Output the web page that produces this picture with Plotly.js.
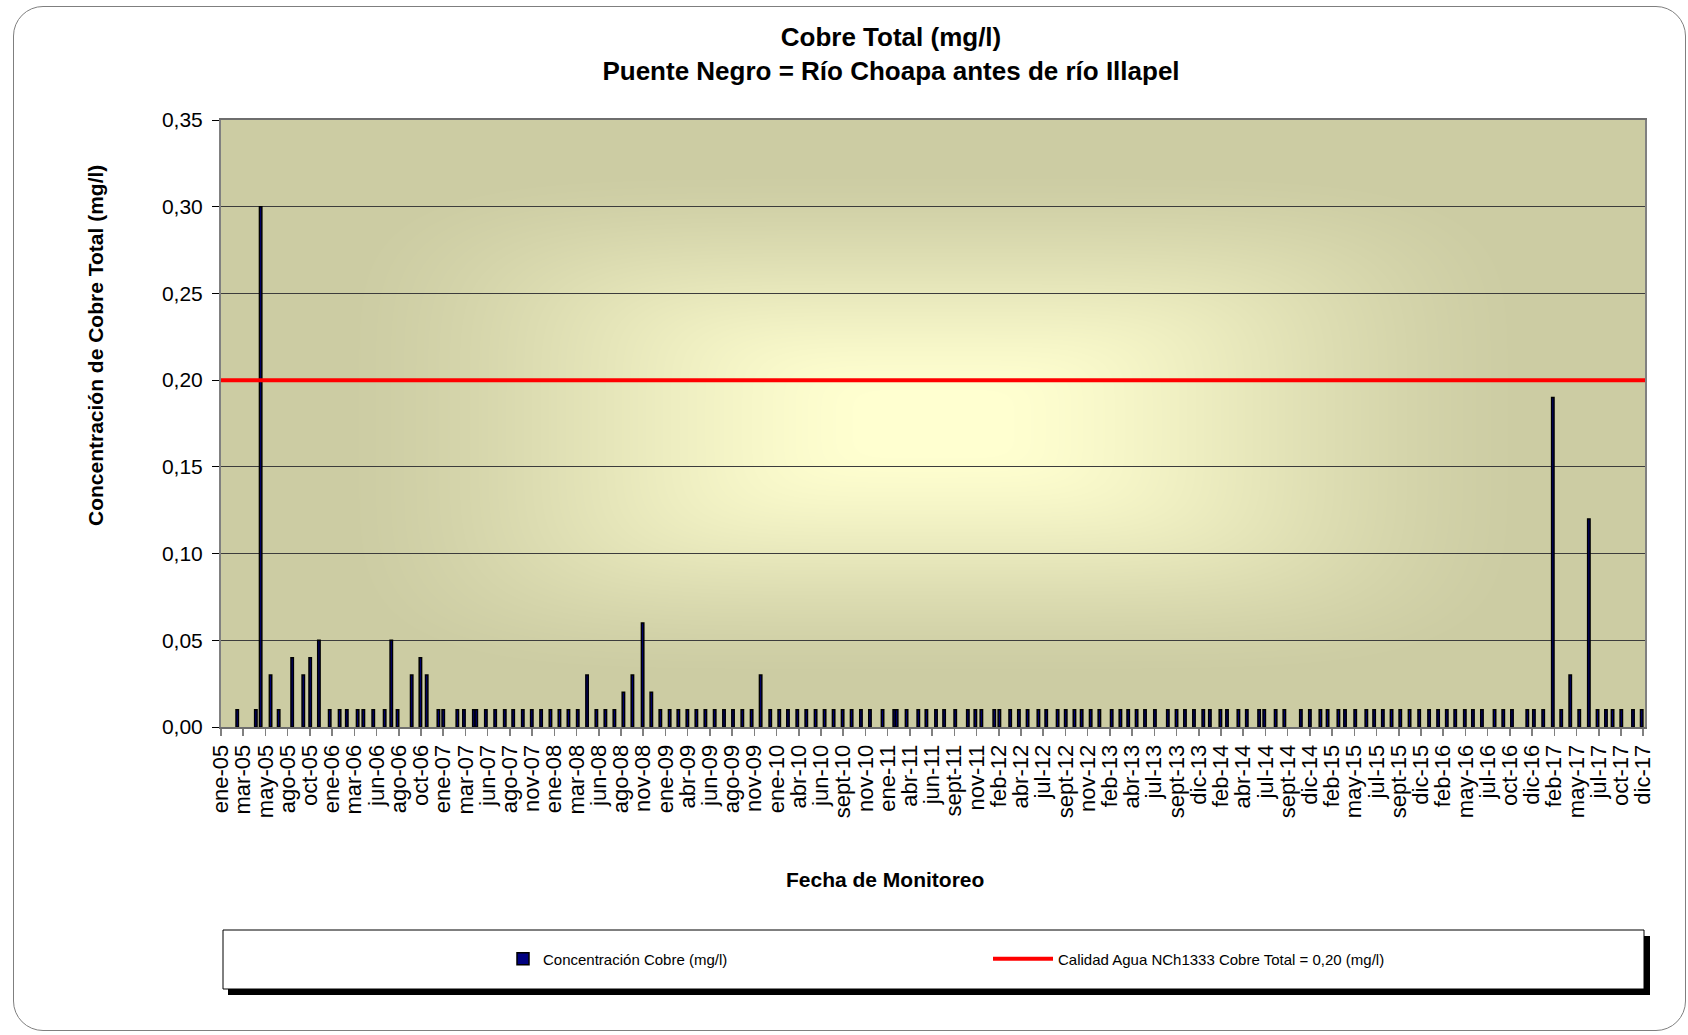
<!DOCTYPE html>
<html><head><meta charset="utf-8">
<script src="https://cdn.plot.ly/plotly-3.0.1.min.js"></script>
<style>
html,body{margin:0;padding:0;background:#fff;overflow:hidden;}
#frame{position:absolute;left:13px;top:6px;width:1673px;height:1025px;border:1.5px solid #7f7f7f;border-radius:30px;box-sizing:border-box;}
#chart{position:absolute;left:0;top:0;width:1688px;height:1035px;}
</style></head><body>
<div id="frame"></div>
<div id="chart"></div>
<script>
// ---- data ----
const sampleDates = [
 '2005-02-24','2005-04-27','2005-05-13','2005-06-15','2005-07-12','2005-08-26','2005-10-02','2005-10-25','2005-11-23','2005-12-29',
 '2006-01-31','2006-02-24','2006-04-01','2006-04-20','2006-05-23','2006-06-30','2006-07-22','2006-08-12','2006-09-28','2006-10-27','2006-11-17','2006-12-26',
 '2007-01-11','2007-02-27','2007-03-21','2007-04-23','2007-05-01','2007-06-02','2007-07-03','2007-08-04','2007-09-01','2007-10-03','2007-11-02','2007-12-03',
 '2008-01-03','2008-02-02','2008-03-03','2008-04-03','2008-05-04','2008-06-04','2008-07-04','2008-08-03','2008-09-02','2008-10-02','2008-11-05','2008-12-04',
 '2009-01-03','2009-02-03','2009-03-04','2009-04-03','2009-05-03','2009-06-02','2009-07-03','2009-08-03','2009-09-02','2009-10-03','2009-11-03','2009-12-03',
 '2010-01-04','2010-02-03','2010-03-04','2010-04-04','2010-05-04','2010-06-04','2010-07-04','2010-08-03','2010-09-02','2010-10-02','2010-11-02','2010-12-02',
 '2011-01-13','2011-02-21','2011-03-01','2011-04-03','2011-05-12','2011-06-08','2011-07-10','2011-08-06','2011-09-12','2011-10-24','2011-11-18','2011-12-08',
 '2012-01-20','2012-02-06','2012-03-13','2012-04-11','2012-05-10','2012-06-15','2012-07-11','2012-08-18','2012-09-14','2012-10-13','2012-11-06','2012-12-06',
 '2013-01-04','2013-02-14','2013-03-15','2013-04-10','2013-05-08','2013-06-05','2013-07-08','2013-08-20','2013-09-18','2013-10-16','2013-11-15','2013-12-16',
 '2014-01-07','2014-02-11','2014-03-05','2014-04-12','2014-05-10','2014-06-20','2014-07-07','2014-08-14','2014-09-12','2014-11-06','2014-12-06',
 '2015-01-10','2015-02-03','2015-03-11','2015-04-02','2015-05-06','2015-06-12','2015-07-08','2015-08-06','2015-09-04','2015-10-03','2015-11-03','2015-12-05',
 '2016-01-07','2016-02-06','2016-03-06','2016-04-03','2016-05-05','2016-06-01','2016-07-01','2016-08-12','2016-09-10','2016-10-09','2016-11-29','2016-12-21',
 '2017-01-21','2017-02-22','2017-03-22','2017-04-21','2017-05-21','2017-06-22','2017-07-21','2017-08-18','2017-09-09','2017-10-08','2017-11-16','2017-12-15'
];
const copperValues = [
 0.01,0.01,0.30,0.03,0.01,0.04,0.03,0.04,0.05,0.01,
 0.01,0.01,0.01,0.01,0.01,0.01,0.05,0.01,0.03,0.04,0.03,0.01,
 0.01,0.01,0.01,0.01,0.01,0.01,0.01,0.01,0.01,0.01,0.01,0.01,
 0.01,0.01,0.01,0.01,0.03,0.01,0.01,0.01,0.02,0.03,0.06,0.02,
 0.01,0.01,0.01,0.01,0.01,0.01,0.01,0.01,0.01,0.01,0.01,0.03,
 0.01,0.01,0.01,0.01,0.01,0.01,0.01,0.01,0.01,0.01,0.01,0.01,
 0.01,0.01,0.01,0.01,0.01,0.01,0.01,0.01,0.01,0.01,0.01,0.01,
 0.01,0.01,0.01,0.01,0.01,0.01,0.01,0.01,0.01,0.01,0.01,0.01,
 0.01,0.01,0.01,0.01,0.01,0.01,0.01,0.01,0.01,0.01,0.01,0.01,
 0.01,0.01,0.01,0.01,0.01,0.01,0.01,0.01,0.01,0.01,0.01,
 0.01,0.01,0.01,0.01,0.01,0.01,0.01,0.01,0.01,0.01,0.01,0.01,
 0.01,0.01,0.01,0.01,0.01,0.01,0.01,0.01,0.01,0.01,0.01,0.01,
 0.01,0.19,0.01,0.03,0.01,0.12,0.01,0.01,0.01,0.01,0.01,0.01
];
const limitValue = 0.20;
const limitDates = ['2005-01-01','2017-12-26'];
const tickLabels = [
 'ene-05','mar-05','may-05','ago-05','oct-05',
 'ene-06','mar-06','jun-06','ago-06','oct-06',
 'ene-07','mar-07','jun-07','ago-07','nov-07',
 'ene-08','mar-08','jun-08','ago-08','nov-08',
 'ene-09','abr-09','jun-09','ago-09','nov-09',
 'ene-10','abr-10','jun-10','sept-10','nov-10',
 'ene-11','abr-11','jun-11','sept-11','nov-11',
 'feb-12','abr-12','jul-12','sept-12','nov-12',
 'feb-13','abr-13','jul-13','sept-13','dic-13',
 'feb-14','abr-14','jul-14','sept-14','dic-14',
 'feb-15','may-15','jul-15','sept-15','dic-15',
 'feb-16','may-16','jul-16','oct-16','dic-16',
 'feb-17','may-17','jul-17','oct-17','dic-17'
];
const axisStart = '2005-01-01';
const axisEnd = '2017-12-26';
const tickStepDays = 74;
const titleText = 'Cobre Total (mg/l)<br>Puente Negro = Río Choapa antes de río Illapel';
const yTitle = 'Concentración de Cobre Total (mg/l)';
const xTitle = 'Fecha de Monitoreo';
const seriesName = 'Concentración Cobre (mg/l)';
const limitName = 'Calidad Agua NCh1333 Cobre Total = 0,20 (mg/l)';

// ---- tick dates (major unit of the date axis) ----
const DAY = 86400000;
const t0 = Date.parse(axisStart + 'T00:00:00Z');
const tickVals = tickLabels.map((_, k) => new Date(t0 + k * tickStepDays * DAY).toISOString().slice(0, 10));

// ---- plot-area gradient background (rectangular "from centre" fill) ----
const W = 1688, H = 1035;
const M = {l: 221, r: 43, t: 120, b: 308};
const PW = W - M.l - M.r, PH = H - M.t - M.b;
function makeBg(w, h) {
  const c = document.createElement('canvas'); c.width = w; c.height = h;
  const ctx = c.getContext('2d'); const img = ctx.createImageData(w, h);
  const cx = w * 0.5, cy = h * 0.5;
  const c0 = [255, 255, 208], c1 = [204, 204, 163];
  const p = 5;
  for (let y = 0; y < h; y++) {
    for (let x = 0; x < w; x++) {
      const dx = Math.abs(x - cx) / (w * 0.5), dy = Math.abs(y - cy) / (h * 0.5);
      const t = Math.pow(Math.pow(dx, p) + Math.pow(dy, p), 1 / p);
      let s = (t - 0.1) / 0.72;
      s = Math.max(0, Math.min(1, s));
      s = s * s * (3 - 2 * s) * 0.5 + s * 0.5;
      const i = (y * w + x) * 4;
      img.data[i] = c0[0] + (c1[0] - c0[0]) * s;
      img.data[i + 1] = c0[1] + (c1[1] - c0[1]) * s;
      img.data[i + 2] = c0[2] + (c1[2] - c0[2]) * s;
      img.data[i + 3] = 255;
    }
  }
  ctx.putImageData(img, 0, 0);
  return c.toDataURL('image/png');
}

const px = v => (v - M.l) / PW;
const py = v => (H - M.b - v) / PH;

const FONT = 'Liberation Sans, Arial, sans-serif';

const traces = [
  {
    type: 'bar', x: sampleDates, y: copperValues, name: seriesName,
    width: 8 * DAY,
    marker: {color: '#000080', line: {color: '#000000', width: 1.5}},
    legend: 'legend', hoverinfo: 'x+y'
  },
  {
    type: 'scatter', mode: 'lines', x: limitDates, y: [limitValue, limitValue],
    name: limitName, line: {color: '#ff0000', width: 4},
    legend: 'legend2', cliponaxis: true
  }
];

const layout = {
  width: W, height: H,
  margin: M,
  paper_bgcolor: 'rgba(0,0,0,0)',
  plot_bgcolor: 'rgba(0,0,0,0)',
  separators: ',.',
  font: {family: FONT, color: '#000'},
  showlegend: true,
  bargap: 0,
  title: {
    text: titleText, font: {family: FONT, size: 26, color: '#000', weight: 'bold'},
    x: 891 / W, xanchor: 'center', xref: 'container',
    y: 1 - 46 / H, yanchor: 'top', yref: 'container'
  },
  xaxis: {
    type: 'date', range: [axisStart, axisEnd],
    tickmode: 'array', tickvals: tickVals, ticktext: tickLabels,
    tickangle: -90, tickfont: {size: 22, color: '#000'},
    ticks: 'outside', ticklen: 7, tickcolor: '#808080', tickwidth: 1.5,
    showgrid: false, zeroline: false,
    showline: true, linecolor: '#6e6e6e', linewidth: 2, mirror: true,
    automargin: false
  },
  yaxis: {
    range: [0, 0.35], dtick: 0.05, tick0: 0, tickformat: '.2f',
    tickfont: {size: 21, color: '#000'}, ticklabelstandoff: 5,
    ticks: 'outside', ticklen: 7, tickcolor: '#000', tickwidth: 1,
    showgrid: true, gridcolor: '#3c3c3c', gridwidth: 1,
    zeroline: false,
    showline: true, linecolor: '#808080', linewidth: 2, mirror: true,
    automargin: false
  },
  annotations: [
    {text: yTitle, textangle: -90, xref: 'paper', yref: 'paper', x: px(95), y: py(346),
     xanchor: 'center', yanchor: 'middle', showarrow: false,
     font: {family: FONT, size: 21, color: '#000', weight: 'bold'}},
    {text: xTitle, xref: 'paper', yref: 'paper', x: px(885), y: py(879),
     xanchor: 'center', yanchor: 'middle', showarrow: false,
     font: {family: FONT, size: 21, color: '#000', weight: 'bold'}}
  ],
  images: [{
    source: makeBg(PW, PH), xref: 'paper', yref: 'paper',
    x: 0, y: 1, sizex: 1, sizey: 1, sizing: 'stretch',
    xanchor: 'left', yanchor: 'top', layer: 'below'
  }],
  shapes: [
    {type: 'rect', xref: 'paper', yref: 'paper', x0: px(228), x1: px(1650), y0: py(936), y1: py(995),
     fillcolor: '#000', line: {width: 0}, layer: 'above'},
    {type: 'rect', xref: 'paper', yref: 'paper', x0: px(223), x1: px(1644), y0: py(930), y1: py(989),
     fillcolor: '#fff', line: {color: '#000', width: 1}, layer: 'above'}
  ],
  legend: {
    x: px(503), y: py(959), xanchor: 'left', yanchor: 'middle',
    orientation: 'h', bgcolor: 'rgba(0,0,0,0)', borderwidth: 0,
    font: {size: 15, color: '#000'}
  },
  legend2: {
    x: px(988), y: py(959), xanchor: 'left', yanchor: 'middle',
    orientation: 'h', bgcolor: 'rgba(0,0,0,0)', borderwidth: 0,
    itemwidth: 60,
    font: {size: 15, color: '#000'}
  }
};

Plotly.newPlot('chart', traces, layout, {displayModeBar: false, staticPlot: true});
</script>
</body></html>
